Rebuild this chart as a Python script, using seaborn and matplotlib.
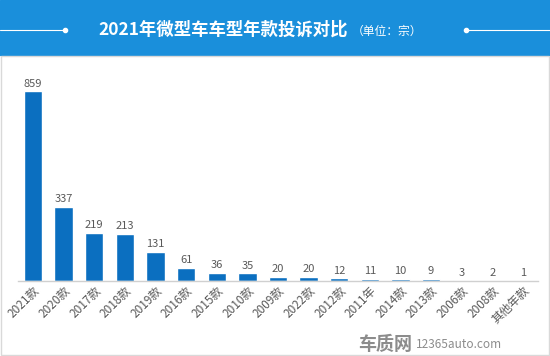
import matplotlib
matplotlib.use('Agg')
import matplotlib.pyplot as plt
import seaborn as sns
import pandas as pd
from matplotlib.patches import Rectangle

# data
models = ['2021款', '2020款', '2017款', '2018款', '2019款', '2016款', '2015款', '2010款', '2009款',
          '2022款', '2012款', '2011年', '2014款', '2013款', '2006款', '2008款', '其他年款']
complaints = [859, 337, 219, 213, 131, 61, 36, 35, 20, 20, 12, 11, 10, 9, 3, 2, 1]

df = pd.DataFrame({'model': models, 'count': complaints})

sns.set_theme(style='white')
plt.rcParams['font.family'] = ['Noto Sans CJK SC', 'DejaVu Sans']

fig = plt.figure(figsize=(5.5, 3.56), dpi=100)

# title banner
fig.patches.append(Rectangle((0, 1 - 55 / 356), 1, 55 / 356, transform=fig.transFigure,
                             color='#1a8fdb', zorder=0))
fig.lines.append(plt.Line2D([0, 65 / 550], [1 - 30 / 356] * 2, transform=fig.transFigure,
                            color='white', lw=0.8))
fig.lines.append(plt.Line2D([466 / 550, 1], [1 - 30 / 356] * 2, transform=fig.transFigure,
                            color='white', lw=0.8))
fig.lines.append(plt.Line2D([65 / 550, 466 / 550], [1 - 30 / 356] * 2, transform=fig.transFigure,
                            color='white', lw=0, marker='o', markersize=3, markevery=[0, 1]))
fig.text(348 / 550, 1 - 30 / 356, '2021年微型车车型年款投诉对比', color='white', fontsize=12.5,
         fontweight='bold', ha='right', va='center')
fig.text(352 / 550, 1 - 31 / 356, '（单位：宗）', color='white', fontsize=8.5, ha='left', va='center')

# light border around the chart
fig.patches.append(Rectangle((1 / 550, 1 / 356), 548 / 550, 1 - 56 / 356 - 1 / 356,
                             transform=fig.transFigure, fill=False, ec='#d9d9d9', lw=1))

ax = fig.add_axes([17.7 / 550, 75 / 356, 520.6 / 550, 221 / 356])
sns.barplot(data=df, x='model', y='count', color='#0b6fc0', width=0.6, saturation=1, ax=ax)
ax.set_ylim(0, 1000)
ax.set_xlim(-0.5, len(models) - 0.5)

for i, v in enumerate(complaints):
    ax.text(i, v + 12, str(v), ha='center', va='bottom', fontsize=8, color='#595959')

ax.set_xlabel('')
ax.set_ylabel('')
ax.set_yticks([])
ax.tick_params(axis='x', length=0, pad=2)
plt.setp(ax.get_xticklabels(), rotation=45, ha='right', rotation_mode='anchor',
         fontsize=8.5, color='#595959')
for side in ['top', 'left', 'right']:
    ax.spines[side].set_visible(False)
ax.spines['bottom'].set_color('#d0d0d0')
ax.spines['bottom'].set_linewidth(1)
ax.patch.set_alpha(0)

# watermark
fig.text(412 / 550, 12 / 356, '车质网', color='#8c8c8c', fontsize=13, fontweight='bold',
         ha='right', va='center')
fig.text(416 / 550, 12 / 356, '12365auto.com', color='#8c8c8c', fontsize=8.5,
         ha='left', va='center')

fig.savefig('out.png', dpi=100)
